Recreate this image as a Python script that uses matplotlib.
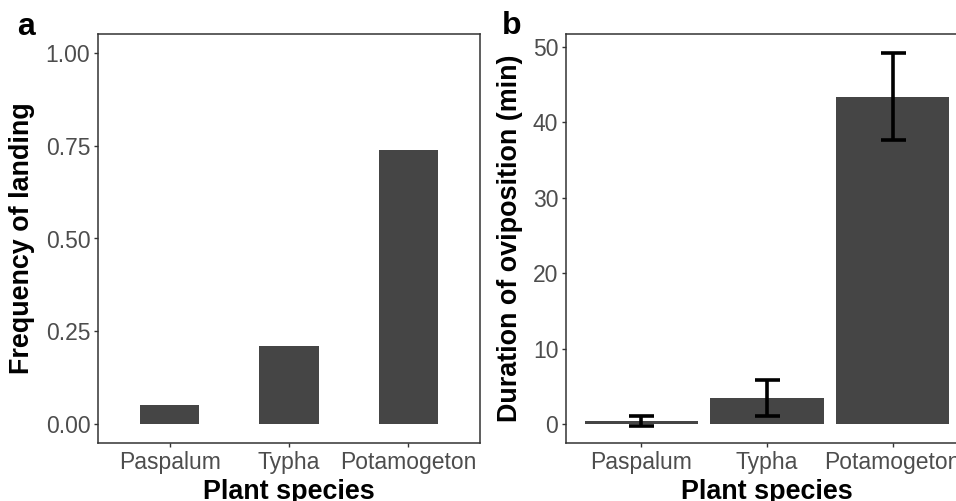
import numpy as np
import matplotlib
matplotlib.use("Agg")
import matplotlib.pyplot as plt

plt.rcParams['font.family'] = ['Liberation Sans', 'DejaVu Sans']

species = ['Paspalum', 'Typha', 'Potamogeton']
landing_freq = [0.051, 0.21, 0.739]
ovi_mean = [0.45, 3.45, 43.35]
ovi_se = [0.72, 2.4, 5.75]
a_ticks = [0.0, 0.25, 0.5, 0.75, 1.0]
a_ticklabels = ['0.00', '0.25', '0.50', '0.75', '1.00']
b_ticks = [0, 10, 20, 30, 40, 50]

W, H = 956, 501
fig = plt.figure(figsize=(W / 100, H / 100), dpi=100)

bar_col = '#454545'
tick_col = '#4D4D4D'
frame_col = '#333333'

def style(ax):
    for s in ax.spines.values():
        s.set_color(frame_col)
        s.set_linewidth(1.1)
    ax.tick_params(axis='both', length=3, width=1.0, color=frame_col,
                   labelsize=16.5, labelcolor=tick_col, pad=2.5)

# panel a
ax1 = fig.add_axes([98 / W, 58 / H, 382 / W, 409 / H])
x = np.arange(len(species))
ax1.bar(x, landing_freq, width=0.5, color=bar_col)
ax1.set_xlim(-0.6, 2.6)
ax1.set_ylim(-0.05, 1.05)
ax1.set_yticks(a_ticks)
ax1.set_yticklabels(a_ticklabels)
ax1.set_xticks(x)
ax1.set_xticklabels(species)
style(ax1)

# panel b (cut at the right edge like the original)
ax2 = fig.add_axes([566 / W, 58 / H, 402 / W, 409 / H])
ax2.bar(x, ovi_mean, width=0.9, color=bar_col)
ax2.errorbar(x, ovi_mean, yerr=ovi_se, fmt='none', ecolor='black',
             elinewidth=2.6, capsize=9, capthick=2.6)
ax2.set_xlim(-0.6, 2.6)
ax2.set_ylim(-2.46, 51.66)
ax2.set_yticks(b_ticks)
ax2.set_xticks(x)
ax2.set_xticklabels(species)
style(ax2)

lab = dict(fontsize=19.4, fontweight='bold', color='black')
fig.text(22 / W, 1 - 238 / H, 'Frequency of landing', rotation=90,
         ha='center', va='center', **lab)
fig.text(510 / W, 1 - 238 / H, 'Duration of oviposition (min)', rotation=90,
         ha='center', va='center', **lab)
fig.text(289 / W, 1 - 499 / H, 'Plant species', ha='center', va='baseline', **lab)
fig.text(767 / W, 1 - 499 / H, 'Plant species', ha='center', va='baseline', **lab)

fig.text(17 / W, 1 - 35 / H, 'a', fontsize=23, fontweight='bold', va='baseline')
fig.text(502 / W, 1 - 34 / H, 'b', fontsize=23, fontweight='bold', va='baseline')

fig.savefig('out.png', dpi=100)
